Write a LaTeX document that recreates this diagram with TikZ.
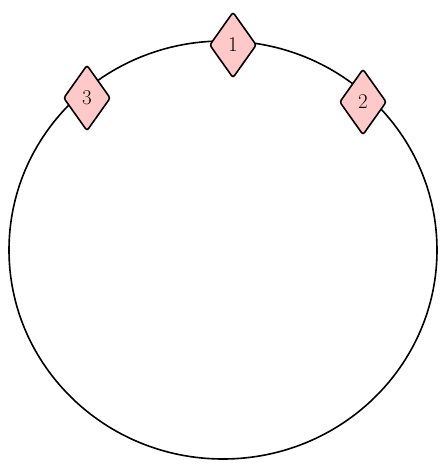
\documentclass[tikz,border=0pt]{standalone}
\usepackage{tikz}
\usetikzlibrary{shapes.geometric}

\definecolor{pinkfill}{HTML}{FFC9C9}

\begin{document}
\begin{tikzpicture}[x=1pt, y=-1pt, line width=1.6pt,
    marker/.style={draw, diamond, fill=pinkfill, rounded corners=2.5pt,
        minimum width=47pt, minimum height=66pt, inner sep=0pt,
        font=\fontsize{21}{21}\selectfont}]

\useasboundingbox (0,0) rectangle (446,469);

% Kruh
\node[draw, ellipse, minimum width=428pt, minimum height=418pt] (ring) at (223,250) {};

% Značky na obvodu
\node[marker] (m1) at (233,45) {1};
\node[marker] (m2) at (363,102) {2};
\node[marker] (m3) at (87,98) {3};

\end{tikzpicture}
\end{document}
